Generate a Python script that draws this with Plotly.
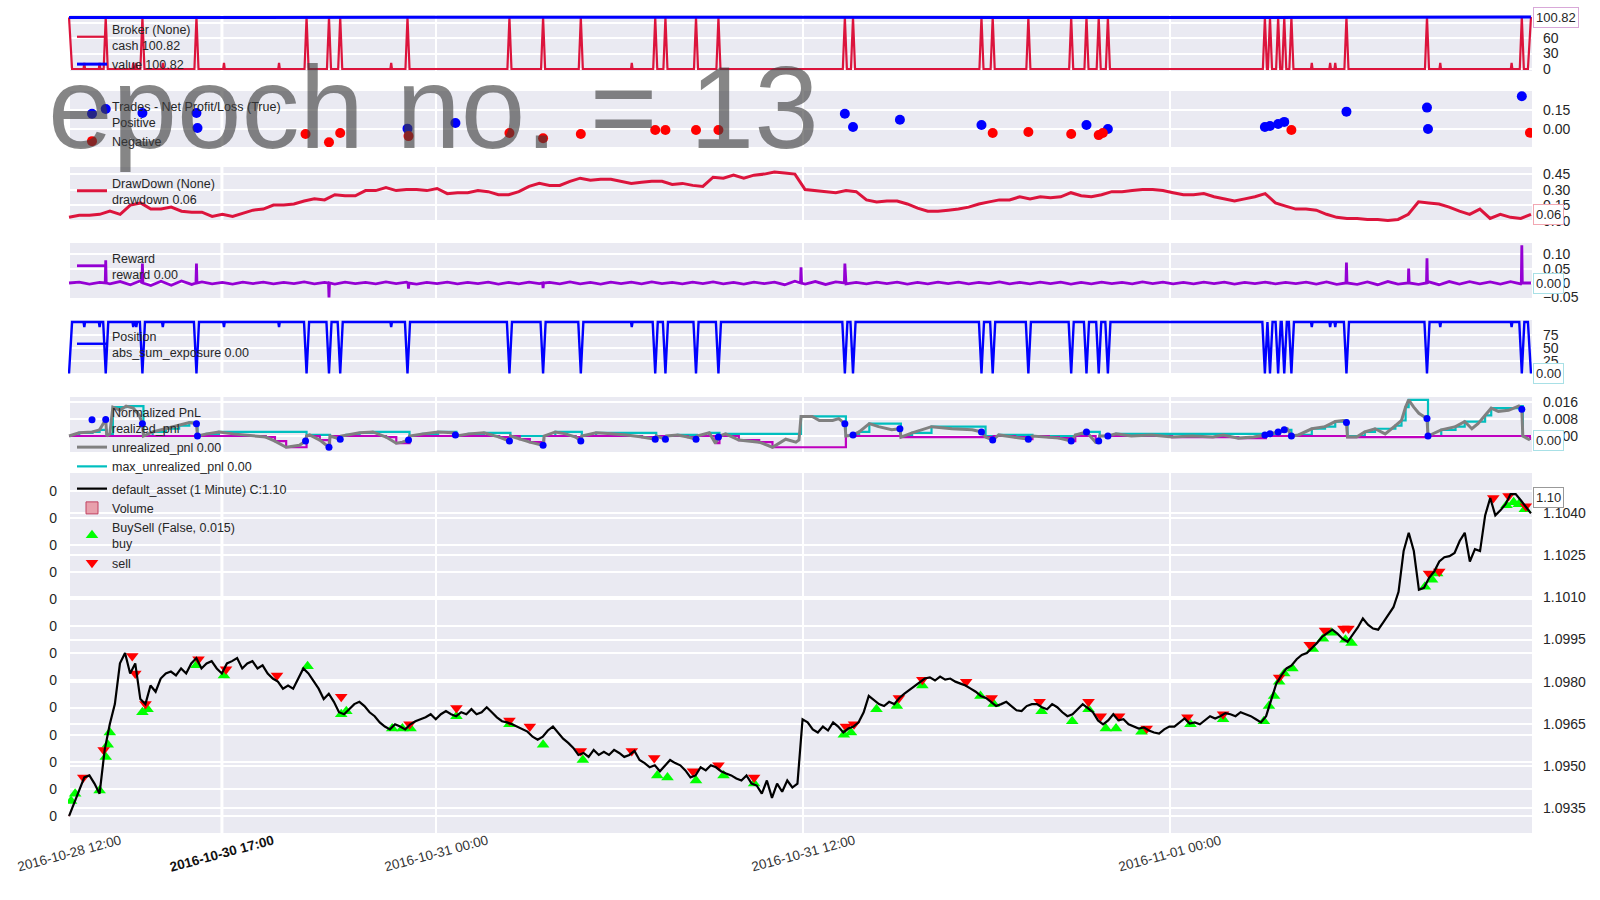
import numpy as np
import plotly.graph_objects as go

# ----------------------------------------------------------------- data
# x axis = bar index in minutes after 2016-10-28 12:00 (weekend gap removed)
T_END = 2868
tick_pos = [0, 300, 720, 1440, 2160]
tick_labels = ["2016-10-28 12:00", "<b>2016-10-30 17:00</b>", "2016-10-31 00:00",
               "2016-10-31 12:00", "2016-11-01 00:00"]

# close price, one value every ~10 minutes
price_close = [
    1.09321, 1.09365, 1.09412, 1.09459, 1.09466, 1.09437, 1.09401, 1.09557, 1.09648, 1.09720,
    1.09865, 1.09902, 1.09829, 1.09865, 1.09738, 1.09720, 1.09786, 1.09764, 1.09811, 1.09829,
    1.09836, 1.09822, 1.09847, 1.09829, 1.09865, 1.09884, 1.09847, 1.09865, 1.09873, 1.09847,
    1.09829, 1.09865, 1.09873, 1.09884, 1.09847, 1.09865, 1.09873, 1.09847, 1.09858, 1.09829,
    1.09811, 1.09800, 1.09775, 1.09786, 1.09775, 1.09811, 1.09847, 1.09829, 1.09800, 1.09775,
    1.09738, 1.09757, 1.09728, 1.09691, 1.09684, 1.09702, 1.09720, 1.09728, 1.09713, 1.09691,
    1.09677, 1.09655, 1.09640, 1.09630, 1.09648, 1.09640, 1.09630, 1.09648, 1.09659, 1.09666,
    1.09673, 1.09684, 1.09666, 1.09684, 1.09695, 1.09684, 1.09677, 1.09691, 1.09684, 1.09702,
    1.09684, 1.09691, 1.09709, 1.09691, 1.09673, 1.09659, 1.09655, 1.09648, 1.09640, 1.09630,
    1.09622, 1.09604, 1.09593, 1.09604, 1.09626, 1.09640, 1.09619, 1.09597, 1.09582, 1.09564,
    1.09539, 1.09546, 1.09532, 1.09557, 1.09539, 1.09550, 1.09539, 1.09557, 1.09546, 1.09532,
    1.09539, 1.09553, 1.09521, 1.09510, 1.09495, 1.09502, 1.09481, 1.09502, 1.09521, 1.09510,
    1.09502, 1.09484, 1.09459, 1.09466, 1.09495, 1.09484, 1.09502, 1.09495, 1.09481, 1.09473,
    1.09466, 1.09455, 1.09448, 1.09466, 1.09437, 1.09430, 1.09401, 1.09448, 1.09386, 1.09437,
    1.09408, 1.09448, 1.09423, 1.09437, 1.09666, 1.09655, 1.09630, 1.09619, 1.09640, 1.09626,
    1.09655, 1.09640, 1.09619, 1.09633, 1.09640, 1.09655, 1.09691, 1.09749, 1.09735, 1.09720,
    1.09713, 1.09728, 1.09720, 1.09742, 1.09757, 1.09771, 1.09786, 1.09800, 1.09811, 1.09815,
    1.09804, 1.09818, 1.09807, 1.09811, 1.09800, 1.09793, 1.09786, 1.09775, 1.09764, 1.09749,
    1.09742, 1.09728, 1.09713, 1.09720, 1.09728, 1.09713, 1.09698, 1.09695, 1.09713, 1.09720,
    1.09720, 1.09709, 1.09702, 1.09720, 1.09709, 1.09691, 1.09677, 1.09684, 1.09702, 1.09720,
    1.09706, 1.09691, 1.09662, 1.09648, 1.09662, 1.09684, 1.09662, 1.09666, 1.09648, 1.09640,
    1.09633, 1.09637, 1.09626, 1.09619, 1.09615, 1.09630, 1.09640, 1.09640, 1.09655, 1.09669,
    1.09651, 1.09655, 1.09648, 1.09662, 1.09677, 1.09669, 1.09677, 1.09688, 1.09684, 1.09677,
    1.09691, 1.09684, 1.09677, 1.09666, 1.09655, 1.09677, 1.09738, 1.09793, 1.09822, 1.09847,
    1.09858, 1.09880, 1.09895, 1.09902, 1.09920, 1.09938, 1.09960, 1.09974, 1.09985, 1.09971,
    1.09953, 1.09942, 1.09967, 1.09993, 1.10025, 1.10003, 1.09989, 1.09985, 1.10011, 1.10036,
    1.10065, 1.10120, 1.10265, 1.10330, 1.10265, 1.10127, 1.10134, 1.10170, 1.10192, 1.10228,
    1.10243, 1.10247, 1.10258, 1.10301, 1.10330, 1.10228, 1.10272, 1.10265, 1.10392, 1.10454,
    1.10392, 1.10410, 1.10432, 1.10468, 1.10468, 1.10446, 1.10421, 1.10399]

buy_t = [4, 12, 60, 72, 76, 80, 144, 154, 250, 304, 468, 534, 544, 634, 654, 670, 760, 864, 930, 1008,
         1154, 1174, 1230, 1284, 1344, 1520, 1534, 1584, 1624, 1674, 1788, 1814, 1908, 1968, 2000, 2034,
         2054, 2104, 2200, 2264, 2344, 2354, 2364, 2374, 2384, 2400, 2440, 2460, 2476, 2504, 2516, 2660,
         2674, 2684, 2820, 2834, 2844, 2856]
buy_p = [1.09375, 1.09401, 1.09412, 1.09532, 1.09575, 1.09619, 1.09691, 1.09702, 1.09858, 1.09822,
         1.09855, 1.09684, 1.09695, 1.09633, 1.09633, 1.09633, 1.09677, 1.09648, 1.09575, 1.09521,
         1.09466, 1.09459, 1.09448, 1.09466, 1.09437, 1.09611, 1.09619, 1.09702, 1.09713, 1.09786,
         1.09749, 1.09720, 1.09695, 1.09659, 1.09702, 1.09633, 1.09633, 1.09622, 1.09648, 1.09666,
         1.09659, 1.09713, 1.09749, 1.09800, 1.09829, 1.09847, 1.09916, 1.09953, 1.09974, 1.09949,
         1.09938, 1.10138, 1.10163, 1.10185, 1.10428, 1.10439, 1.10432, 1.10414]
sell_t = [28, 68, 124, 130, 150, 254, 308, 408, 534, 668, 760, 864, 904, 1004, 1104, 1148, 1224, 1274,
          1344, 1524, 1540, 1628, 1674, 1760, 1810, 1904, 2000, 2024, 2060, 2114, 2194, 2264, 2374, 2434,
          2464, 2500, 2510, 2668, 2688, 2794, 2824, 2858]
sell_p = [1.09459, 1.09557, 1.09891, 1.09829, 1.09720, 1.09880, 1.09844, 1.09822, 1.09746, 1.09648,
          1.09706, 1.09662, 1.09640, 1.09553, 1.09553, 1.09528, 1.09481, 1.09502, 1.09459, 1.09640,
          1.09648, 1.09742, 1.09807, 1.09800, 1.09742, 1.09728, 1.09728, 1.09677, 1.09677, 1.09633,
          1.09673, 1.09684, 1.09815, 1.09931, 1.09982, 1.09989, 1.09989, 1.10185, 1.10192, 1.10454,
          1.10461, 1.10425]
volume = [0.0]
volume_tick_labels = ["0"] * 13

# drawdown, one value every ~20 minutes
drawdown = [
    0.035, 0.054, 0.054, 0.064, 0.094, 0.064, 0.153, 0.173, 0.114, 0.114,
    0.133, 0.094, 0.084, 0.084, 0.044, 0.064, 0.044, 0.074, 0.104, 0.114,
    0.153, 0.153, 0.163, 0.192, 0.212, 0.202, 0.252, 0.242, 0.242, 0.291,
    0.291, 0.321, 0.291, 0.301, 0.301, 0.291, 0.311, 0.262, 0.271, 0.271,
    0.291, 0.281, 0.252, 0.252, 0.281, 0.331, 0.360, 0.341, 0.341, 0.380,
    0.410, 0.390, 0.400, 0.400, 0.380, 0.360, 0.370, 0.380, 0.380, 0.350,
    0.360, 0.341, 0.331, 0.419, 0.410, 0.439, 0.410, 0.439, 0.449, 0.469,
    0.459, 0.449, 0.301, 0.291, 0.281, 0.271, 0.291, 0.281, 0.202, 0.183,
    0.192, 0.192, 0.163, 0.123, 0.094, 0.094, 0.104, 0.114, 0.133, 0.163,
    0.183, 0.202, 0.202, 0.232, 0.212, 0.232, 0.222, 0.232, 0.271, 0.242,
    0.232, 0.252, 0.281, 0.281, 0.291, 0.301, 0.301, 0.291, 0.271, 0.252,
    0.252, 0.262, 0.232, 0.212, 0.192, 0.212, 0.232, 0.262, 0.173, 0.143,
    0.114, 0.114, 0.104, 0.064, 0.035, 0.025, 0.025, 0.015, 0.015, 0.005,
    0.015, 0.064, 0.183, 0.173, 0.163, 0.133, 0.094, 0.064, 0.114, 0.025,
    0.064, 0.035, 0.025, 0.064]

# reward: background every ~20 minutes plus spikes at trade closes
reward_base = [
    0.000, 0.003, -0.004, 0.002, -0.003, 0.005, -0.006, 0.008, -0.009, 0.006,
    -0.008, 0.007, -0.005, 0.004, -0.003, 0.002, -0.004, 0.003, -0.002, 0.003,
    -0.003, 0.002, -0.002, 0.004, -0.003, 0.002, -0.004, 0.003, -0.002, 0.002,
    -0.003, 0.004, -0.002, 0.003, -0.004, 0.002, -0.002, 0.003, -0.003, 0.002,
    -0.002, 0.003, -0.004, 0.002, -0.003, 0.003, -0.002, 0.002, -0.003, 0.004,
    -0.003, 0.002, -0.004, 0.003, -0.002, 0.003, -0.003, 0.004, -0.002, 0.002,
    -0.003, 0.003, -0.002, 0.004, -0.003, 0.002, -0.004, 0.003, -0.002, 0.003,
    -0.006, 0.006, -0.004, 0.005, -0.005, 0.004, -0.003, 0.002, -0.003, 0.003,
    -0.002, 0.003, -0.004, 0.002, -0.003, 0.003, -0.002, 0.003, -0.003, 0.002,
    -0.002, 0.004, -0.003, 0.002, -0.003, 0.003, -0.002, 0.003, -0.004, 0.002,
    -0.003, 0.003, -0.002, 0.002, -0.003, 0.004, -0.002, 0.003, -0.003, 0.002,
    -0.003, 0.003, -0.002, 0.003, -0.004, 0.002, -0.002, 0.003, -0.003, 0.002,
    -0.002, 0.003, -0.004, 0.004, -0.005, 0.006, -0.005, 0.004, -0.006, 0.005,
    -0.004, 0.006, -0.005, 0.004, -0.006, 0.005, -0.004, 0.005, -0.003, 0.004,
    -0.004, 0.005, -0.003, 0.000]
reward_spike_t = [72, 144, 250, 510, 666, 930, 1436, 1522, 2506, 2628, 2664, 2850]
reward_spike_v = [0.079, 0.068, 0.068, -0.050, -0.020, -0.018, 0.055, 0.068, 0.071, 0.050, 0.086, 0.132]

# broker / position events
flat_t = [72, 144, 250, 466, 510, 532, 664, 864, 930, 1004, 1150, 1170, 1230, 1274, 1522, 1538,
          1790, 1812, 1882, 1966, 1996, 2020, 2038, 2346, 2356, 2372, 2384, 2398, 2506, 2664, 2850]
flat_cash = [100.16, 100.28, 100.41, 100.37, 100.26, 100.23, 100.17, 100.14, 100.07, 100.03,
             100.02, 100.01, 100.00, 99.99, 100.11, 100.13, 100.16, 100.13, 100.11, 100.07,
             100.10, 100.05, 100.05, 100.07, 100.09, 100.13, 100.19, 100.18, 100.32, 100.55, 100.82]
partial_t = [30, 60, 126, 132, 184, 304, 412, 632, 1104, 2438, 2474, 2484, 2690, 2830]
partial_cash = 12.0
partial_exposure = 90.0
start_value = 100.0
final_value = 100.82

# trades: net profit / loss
trade_t = [72, 144, 250, 252, 464, 510, 532, 664, 666, 758, 864, 930, 1004, 1150, 1170, 1230, 1274,
           1522, 1538, 1630, 1790, 1812, 1882, 1966, 1996, 2020, 2028, 2038, 2346, 2356, 2372, 2384,
           2398, 2506, 2664, 2666, 2850, 2866]
trade_v = [0.158, 0.126, 0.126, 0.008, -0.040, -0.105, -0.032, 0.003, -0.056, 0.048, -0.032, -0.073,
           -0.040, -0.008, -0.008, -0.008, -0.008, 0.121, 0.016, 0.073, 0.032, -0.032, -0.024, -0.040,
           0.032, -0.048, -0.032, 0.0, 0.016, 0.024, 0.040, 0.056, -0.008, 0.137, 0.169, 0.0, 0.258, -0.030]

# normalized PnL
pnl_t = [0, 20, 46, 60, 72, 74, 80, 86, 100, 112, 126, 138, 144, 146, 164, 190, 216, 236, 250, 252,
         270, 294, 322, 348, 386, 404, 426, 452, 464, 466, 472, 492, 510, 512, 532, 534, 544, 570, 596, 622,
         642, 654, 666, 668, 694, 724, 754, 758, 760, 784, 814, 844, 864, 866, 884, 904, 930, 932, 954, 974,
         994, 1004, 1006, 1034, 1064, 1094, 1124, 1150, 1152, 1170, 1172, 1194, 1214, 1230, 1232, 1256,
         1268, 1274, 1276, 1288, 1314, 1354, 1380, 1406, 1426, 1432, 1436, 1458, 1472, 1498, 1510, 1522,
         1524, 1538, 1550, 1570, 1588, 1614, 1630, 1632, 1654, 1692, 1732, 1772, 1790, 1798, 1812, 1824,
         1856, 1882, 1890, 1922, 1942, 1966, 1974, 1996, 2014, 2020, 2022, 2038, 2054, 2084, 2124, 2164,
         2204, 2244, 2264, 2294, 2324, 2346, 2356, 2372, 2384, 2390, 2398, 2412, 2438, 2464, 2484, 2500,
         2506, 2508, 2526, 2542, 2562, 2582, 2602, 2614, 2622, 2628, 2638, 2648, 2664, 2666, 2692, 2720,
         2738, 2752, 2764, 2778, 2790, 2804, 2824, 2844, 2850, 2852, 2866]
unrealized = [0.0, 0.0015, 0.0019, 0.0029, 0.0078, 0.0, 0.0010, 0.0136, 0.0121, 0.0141,
              0.0131, 0.0097, 0.0058, 0.0, 0.0019, 0.0034, 0.0049, 0.0063, 0.0058, 0.0,
              0.0010, 0.0019, 0.0010, 0.0005, -0.0005, -0.0024, -0.0053, -0.0044, -0.0024, 0.0,
              0.0005, -0.0019, -0.0053, 0.0, -0.0015, 0.0, 0.0005, 0.0015, 0.0019, -0.0005,
              -0.0034, -0.0029, -0.0019, 0.0, 0.0010, 0.0019, 0.0015, 0.0005, 0.0, 0.0010,
              0.0015, -0.0005, -0.0024, 0.0, -0.0015, -0.0029, -0.0044, 0.0, 0.0019, 0.0010,
              -0.0005, -0.0024, 0.0, 0.0015, 0.0010, 0.0005, -0.0005, -0.0015, 0.0, -0.0015,
              0.0, 0.0005, -0.0005, -0.0015, 0.0, 0.0015, -0.0034, -0.0005, 0.0, 0.0010,
              -0.0019, -0.0029, -0.0053, -0.0015, -0.0029, -0.0019, 0.0092, 0.0092, 0.0073, 0.0073,
              0.0082, 0.0058, 0.0, 0.0005, 0.0019, 0.0058, 0.0044, 0.0029, 0.0034, -0.0005,
              0.0015, 0.0044, 0.0034, 0.0029, 0.0019, -0.0005, -0.0019, 0.0005, -0.0005, -0.0015,
              0.0, -0.0005, -0.0010, -0.0024, 0.0005, 0.0019, -0.0029, -0.0024, 0.0, 0.0,
              0.0010, 0.0, 0.0005, -0.0005, 0.0, -0.0005, 0.0005, -0.0010, -0.0005, 0.0005,
              0.0010, 0.0019, 0.0029, 0.0034, 0.0, 0.0005, 0.0034, 0.0044, 0.0068, 0.0073,
              0.0063, -0.0005, -0.0005, 0.0019, 0.0034, 0.0010, 0.0049, 0.0073, 0.0136, 0.0170,
              0.0136, 0.0107, 0.0082, 0.0, 0.0029, 0.0044, 0.0068, 0.0034, 0.0058, 0.0097,
              0.0131, 0.0116, 0.0121, 0.0141, 0.0126, 0.0, -0.0019]
realized_t = [72, 144, 250, 252, 464, 510, 532, 666, 758, 864, 930, 1004, 1150, 1170, 1230, 1274,
              1522, 1538, 1630, 1790, 1812, 1882, 1966, 1996, 2020, 2038, 2346, 2356, 2372, 2384,
              2398, 2506, 2664, 2666, 2850]
realized = [0.0078, 0.0058, 0.0058, 0.0, -0.0024, -0.0053, -0.0015, -0.0019, 0.0005, -0.0024,
            -0.0044, -0.0024, -0.0015, -0.0015, -0.0015, -0.0005, 0.0058, 0.0005, 0.0034, 0.0019,
            -0.0019, -0.0015, -0.0024, 0.0019, -0.0024, 0.0, 0.0005, 0.0010, 0.0019, 0.0029,
            0.0, 0.0063, 0.0082, 0.0, 0.0126]
max_unr_t = [0, 20, 46, 60, 74, 80, 86, 112, 146, 164, 190, 216, 236, 252, 270, 294, 466, 472, 512, 534,
             544, 570, 596, 668, 694, 724, 760, 784, 814, 866, 932, 954, 1006, 1034, 1152, 1172, 1194,
             1232, 1256, 1276, 1288, 1436, 1524, 1538, 1550, 1570, 1632, 1654, 1692, 1798, 1812, 1824,
             1890, 1974, 1996, 2022, 2038, 2054, 2348, 2358, 2374, 2386, 2398, 2412, 2438, 2464, 2484,
             2500, 2508, 2542, 2562, 2602, 2614, 2622, 2628, 2666, 2692, 2720, 2738, 2778, 2790, 2844,
             2852, 2868]
max_unr = [0, 0.0015, 0.0019, 0.0029, 0, 0.0010, 0.0136, 0.0141, 0, 0.0019,
           0.0034, 0.0049, 0.0063, 0, 0.0010, 0.0019, 0, 0.0005, 0, 0,
           0.0005, 0.0015, 0.0019, 0, 0.0010, 0.0019, 0, 0.0010, 0.0015, 0,
           0, 0.0019, 0, 0.0015, 0, 0, 0.0005, 0, 0.0015, 0,
           0.0010, 0.0092, 0, 0.0005, 0.0019, 0.0058, 0, 0.0015, 0.0044, 0,
           0, 0.0005, 0, 0.0005, 0.0019, 0, 0, 0.0010, 0.0005, 0.0010,
           0.0019, 0.0029, 0, 0.0005, 0.0034, 0.0044, 0.0068, 0.0073, 0, 0.0019,
           0.0034, 0.0049, 0.0073, 0.0136, 0.0170, 0, 0.0029, 0.0044, 0.0068, 0.0097,
           0.0131, 0.0141, 0, 0]
min_unr_t = [0, 386, 404, 426, 466, 492, 510, 512, 532, 534, 622, 642, 668, 844, 864, 866, 884, 904, 930,
             932, 994, 1004, 1006, 1124, 1150, 1152, 1170, 1172, 1214, 1230, 1232, 1268, 1276, 1314, 1354,
             1380, 1524, 1632, 1798, 1812, 1814, 1856, 1882, 1890, 1922, 1942, 1966, 1974, 1998, 2014,
             2022, 2164, 2294, 2348, 2508, 2666, 2852, 2866]
min_unr = [0, -0.0005, -0.0024, -0.0053, 0, -0.0019, -0.0053, 0, -0.0015, 0,
           -0.0005, -0.0034, 0, -0.0005, -0.0024, 0, -0.0015, -0.0029, -0.0044, 0,
           -0.0005, -0.0024, 0, -0.0005, -0.0015, 0, -0.0015, 0, -0.0005, -0.0015,
           0, -0.0034, 0, -0.0019, -0.0029, -0.0053, 0, -0.0005, -0.0005, -0.0019,
           0, -0.0005, -0.0015, 0, -0.0005, -0.0010, -0.0024, 0, 0, -0.0029,
           0, -0.0005, -0.0010, 0, -0.0005, 0, 0, -0.0019]

# ----------------------------------------------------------------- helpers
FONT = "Liberation Sans, Arial, sans-serif"
TXT = "#262626"
W, H = 1600, 900
XDOM = [68 / W, 1532 / W]


def ydom(top, bottom):
    return [1 - bottom / H, 1 - top / H]


def pid(i):
    return ("x" if i == 1 else f"x{i}"), ("y" if i == 1 else f"y{i}")


# cash / exposure polylines built from the event lists
cash_pts = [(0, start_value), (6, 0.0)]
expo_pts = [(0, 0.0), (6, 100.0)]
for m, c in zip(flat_t, flat_cash):
    cash_pts += [(m - 4, 0.0), (m, c), (m + 4, 0.0)]
    expo_pts += [(m - 5, 100.0), (m, 0.0), (m + 5, 100.0)]
for m in partial_t:
    cash_pts += [(m - 1.5, 0.0), (m, partial_cash), (m + 1.5, 0.0)]
    expo_pts += [(m - 1.5, 100.0), (m, partial_exposure), (m + 1.5, 100.0)]
cash_pts += [(T_END - 6, 0.0), (T_END, final_value)]
expo_pts += [(T_END - 6, 100.0), (T_END, 0.0)]
cash_pts.sort()
expo_pts.sort()

value_t = [0] + flat_t + [T_END]
value_v = [start_value] + flat_cash + [final_value]

rb_t = list(np.linspace(0, T_END, len(reward_base)))
rw = [(t, v) for t, v in zip(rb_t, reward_base)]
for t, v in zip(reward_spike_t, reward_spike_v):
    rw += [(t - 1, 0.0), (t, v), (t + 1, 0.0)]
rw.sort()

price_t = np.linspace(0, T_END, len(price_close))
dd_t = np.linspace(0, T_END, len(drawdown))

fig = go.Figure()

# ---- panel 1: broker
x1, y1 = pid(1)
fig.add_trace(go.Scatter(x=[p[0] for p in cash_pts], y=[p[1] for p in cash_pts], mode="lines",
                         line=dict(color="#DC143C", width=2.2), name="Broker (None)<br>cash 100.82",
                         xaxis=x1, yaxis=y1, legend="legend"))
fig.add_trace(go.Scatter(x=value_t, y=value_v, mode="lines", line=dict(color="#0000FF", width=3),
                         name="value 100.82", xaxis=x1, yaxis=y1, legend="legend"))

# ---- panel 2: trades
x2, y2 = pid(2)
pos = [(t, v) for t, v in zip(trade_t, trade_v) if v >= 0]
neg = [(t, v) for t, v in zip(trade_t, trade_v) if v < 0]
fig.add_trace(go.Scatter(x=[p[0] for p in pos], y=[p[1] for p in pos], mode="markers",
                         marker=dict(color="#0000FF", size=10),
                         name="Trades - Net Profit/Loss (True)<br>Positive", xaxis=x2, yaxis=y2,
                         legend="legend2"))
fig.add_trace(go.Scatter(x=[p[0] for p in neg], y=[p[1] for p in neg], mode="markers",
                         marker=dict(color="#FF0000", size=10), name="Negative", xaxis=x2, yaxis=y2,
                         legend="legend2"))

# ---- panel 3: drawdown
x3, y3 = pid(3)
fig.add_trace(go.Scatter(x=dd_t, y=drawdown, mode="lines", line=dict(color="#DC143C", width=3),
                         name="DrawDown (None)<br>drawdown 0.06", xaxis=x3, yaxis=y3, legend="legend3"))

# ---- panel 4: reward
x4, y4 = pid(4)
fig.add_trace(go.Scatter(x=[p[0] for p in rw], y=[p[1] for p in rw], mode="lines",
                         line=dict(color="#9400D3", width=2.8), name="Reward<br>reward 0.00",
                         xaxis=x4, yaxis=y4, legend="legend4"))

# ---- panel 5: position
x5, y5 = pid(5)
fig.add_trace(go.Scatter(x=[p[0] for p in expo_pts], y=[p[1] for p in expo_pts], mode="lines",
                         line=dict(color="#0000FF", width=2.4), name="Position<br>abs_sum_exposure 0.00",
                         xaxis=x5, yaxis=y5, legend="legend5"))

# ---- panel 6: normalized pnl
x6, y6 = pid(6)
fig.add_trace(go.Scatter(x=max_unr_t, y=max_unr, mode="lines", line=dict(color="#00BFBF", width=2.2, shape="hv"),
                         name="max_unrealized_pnl 0.00", xaxis=x6, yaxis=y6, legend="legend6", legendrank=3))
fig.add_trace(go.Scatter(x=min_unr_t, y=min_unr, mode="lines", line=dict(color="#BF00BF", width=2.2, shape="hv"),
                         name="min_unrealized_pnl 0.00", showlegend=False, xaxis=x6, yaxis=y6, legend="legend6"))
fig.add_trace(go.Scatter(x=pnl_t, y=unrealized, mode="lines", line=dict(color="#808080", width=3),
                         name="unrealized_pnl 0.00", xaxis=x6, yaxis=y6, legend="legend6", legendrank=2))
fig.add_trace(go.Scatter(x=realized_t, y=realized, mode="lines+markers", line=dict(color="#0000FF", width=0),
                         marker=dict(color="#0000FF", size=7), name="Normalized PnL<br>realized_pnl",
                         xaxis=x6, yaxis=y6, legend="legend6", legendrank=1))

# ---- panel 7: price
x7, y7 = pid(7)
fig.add_trace(go.Bar(x=[0], y=volume, marker=dict(color="#E8A0AC", line=dict(color="#C04060", width=1)),
                     name="Volume", xaxis=x7, yaxis="y8", legend="legend7", legendrank=2))
fig.add_trace(go.Scatter(x=buy_t, y=buy_p, mode="markers",
                         marker=dict(symbol="triangle-up", color="#00FF00", size=11),
                         name="BuySell (False, 0.015)<br>buy", xaxis=x7, yaxis=y7, legend="legend7", legendrank=3))
fig.add_trace(go.Scatter(x=sell_t, y=sell_p, mode="markers",
                         marker=dict(symbol="triangle-down", color="#FF0000", size=11),
                         name="sell", xaxis=x7, yaxis=y7, legend="legend7", legendrank=4))
fig.add_trace(go.Scatter(x=price_t, y=price_close, mode="lines", line=dict(color="#000000", width=2.2),
                         name="default_asset (1 Minute) C:1.10", xaxis=x7, yaxis=y7, legend="legend7",
                         legendrank=1))

# ----------------------------------------------------------------- layout
panels = {
    1: dict(px=(15, 71), rng=[-3.9, 104.7], tv=[0, 30, 60, 90], tt=["0", "30", "60", "90"]),
    2: dict(px=(91, 147), rng=[-0.142, 0.30], tv=[0, 0.15], tt=["0.00", "0.15"]),
    3: dict(px=(167, 222), rng=[-0.0096, 0.517], tv=[0, 0.15, 0.30, 0.45], tt=["0.00", "0.15", "0.30", "0.45"]),
    4: dict(px=(243, 298), rng=[-0.0523, 0.1395], tv=[-0.05, 0, 0.05, 0.10], tt=["\u22120.05", "0.00", "0.05", "0.10"]),
    5: dict(px=(320, 375), rng=[-2.9, 103.9], tv=[0, 25, 50, 75], tt=["0", "25", "50", "75"]),
    6: dict(px=(397, 452), rng=[-0.00753, 0.01835], tv=[0, 0.008, 0.016], tt=["0.000", "0.008", "0.016"]),
    7: dict(px=(473, 833), rng=[1.09261, 1.10543],
            tv=[1.0935, 1.0950, 1.0965, 1.0980, 1.0995, 1.1010, 1.1025, 1.1040],
            tt=["1.0935", "1.0950", "1.0965", "1.0980", "1.0995", "1.1010", "1.1025", "1.1040"]),
}

layout = dict(width=W, height=H, autosize=False, margin=dict(l=0, r=0, t=0, b=0, autoexpand=False),
              paper_bgcolor="white", plot_bgcolor="#EAEAF2", showlegend=True,
              font=dict(family=FONT, color=TXT, size=13))

for i, p in panels.items():
    xk = "xaxis" if i == 1 else f"xaxis{i}"
    yk = "yaxis" if i == 1 else f"yaxis{i}"
    xa, ya = pid(i)
    layout[xk] = dict(domain=XDOM, anchor=ya, range=[-2, 2870], tickmode="array", tickvals=tick_pos,
                      ticktext=tick_labels, showticklabels=False, showgrid=True, gridcolor="white",
                      gridwidth=1.5, zeroline=False, showline=False, ticks="", automargin=False)
    if i != 7:
        layout[xk]["matches"] = "x7"
    layout[yk] = dict(domain=ydom(*p["px"]), anchor=xa, side="right", range=p["rng"], tickmode="array",
                      tickvals=p["tv"], ticktext=p["tt"], showgrid=True, gridcolor="white", gridwidth=1.5,
                      zeroline=False, showline=False, ticks="", tickfont=dict(size=14, color=TXT),
                      ticklabelstandoff=10, automargin=False)

layout["yaxis8"] = dict(overlaying="y7", side="left", anchor="x7", range=[-0.63, 12.66], tickmode="array",
                        tickvals=list(range(len(volume_tick_labels))), ticktext=volume_tick_labels,
                        showgrid=True, gridcolor="white", gridwidth=1.5, zeroline=False, showline=False,
                        ticks="", tickfont=dict(size=14, color=TXT), ticklabelstandoff=10, automargin=False)

legend_tops = {1: 14, 2: 91, 3: 168, 4: 243, 5: 321, 6: 397, 7: 474}
for i, top in legend_tops.items():
    key = "legend" if i == 1 else f"legend{i}"
    layout[key] = dict(x=72 / W, y=1 - top / H, xanchor="left", yanchor="top", bgcolor="rgba(0,0,0,0)",
                       font=dict(size=12.5, color=TXT, family=FONT), tracegroupgap=0, itemwidth=30,
                       traceorder="normal")

fig.update_layout(**layout)

# dashed zero line in the trades panel, session separator
fig.add_shape(type="line", xref="x2 domain", yref="y2", x0=0, x1=1, y0=0, y1=0,
              line=dict(color="#999999", width=1, dash="dash"), layer="below")
for i in range(1, 8):
    xa, ya = pid(i)
    fig.add_shape(type="line", xref=xa, yref=f"{ya} domain", x0=300, x1=300, y0=0, y1=1,
                  line=dict(color="white", width=3), layer="below")

# x tick labels (centred under the ticks, slanted)
for tv, tt in zip(tick_pos, tick_labels):
    bold = tt.startswith("<b>")
    fig.add_annotation(text=tt, xref="x7", yref="paper", x=tv, y=1 - 853 / H, xanchor="center",
                       yanchor="middle", textangle=-15, showarrow=False,
                       font=dict(size=13.5, color="#111111" if bold else "#333333", family=FONT))


def tag(text, yref, y, border, yshift=0):
    fig.add_annotation(text=text, xref="x7", yref=yref, x=T_END, y=y, xanchor="left", yanchor="middle",
                       showarrow=False, bgcolor="white", bordercolor=border, borderwidth=1, borderpad=2,
                       font=dict(size=13, color=TXT, family=FONT), yshift=yshift, xshift=2)


tag("100.82", "y", final_value, "#D8A8D8")
tag("0.06", "y3", drawdown[-1], "#F2A7B2")
tag("0.00", "y4", reward_base[-1], "#A8E0E6")
tag("0.00", "y5", 0.0, "#A8E0E6")
tag("0.00", "y6", unrealized[-1], "#A8E0E6")
tag("1.10", "y7", price_close[-1], "#999999", yshift=16)

fig.add_annotation(text="epoch no. = 13", xref="paper", yref="paper", x=46 / W, y=1 - 107.5 / H,
                   xanchor="left", yanchor="middle", showarrow=False,
                   font=dict(size=116, color="rgba(60,60,60,0.62)", family=FONT))

fig.write_html("out.html")
